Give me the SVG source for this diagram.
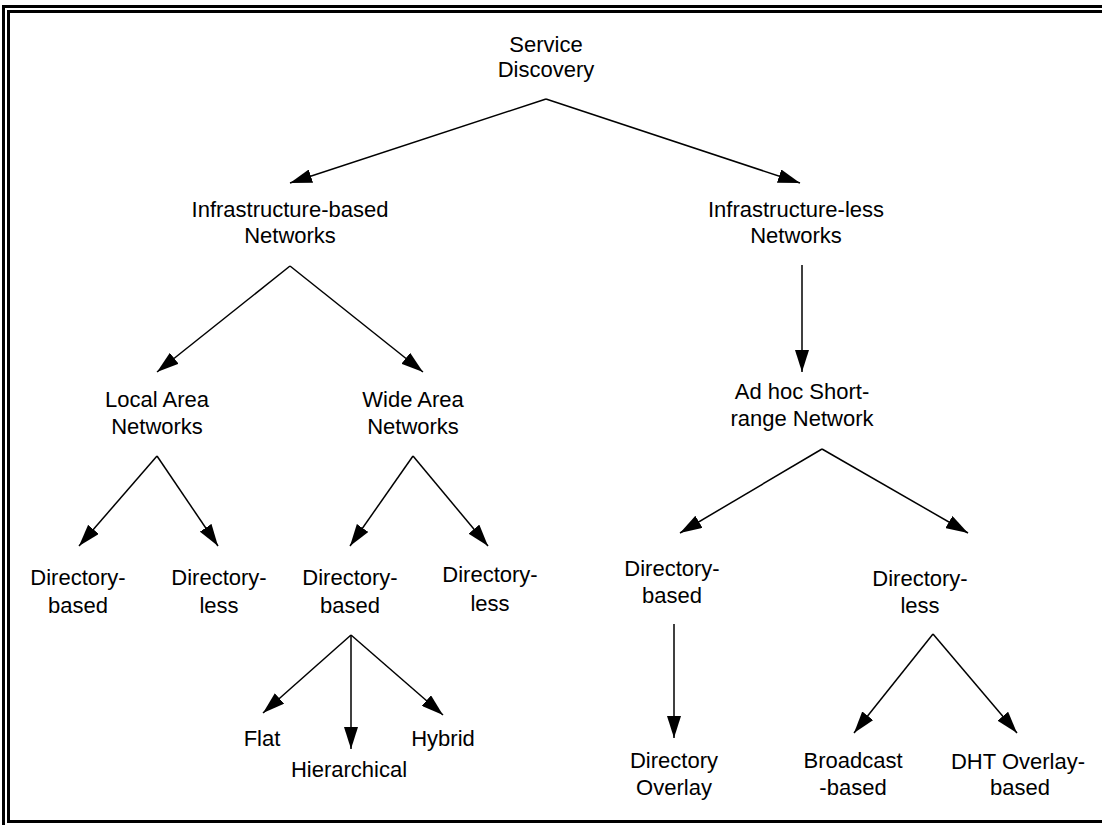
<svg xmlns="http://www.w3.org/2000/svg" width="1102" height="825" viewBox="0 0 1102 825">
<style>
text{font-family:"Liberation Sans",Arial,Helvetica,sans-serif;font-size:22px;fill:#000;text-anchor:middle}
.c line{stroke:#000;stroke-width:1.5;fill:none}
.frame{fill:none;stroke:#000;stroke-width:3}
</style>
<defs>
<marker id="ah" markerUnits="userSpaceOnUse" markerWidth="22" markerHeight="14" refX="22" refY="7" orient="auto" viewBox="0 0 22 14">
<path d="M0,0 L22,7 L0,14 z" fill="#000"/>
</marker>
</defs>
<rect width="1102" height="825" fill="#fff"/>
<rect class="frame" x="3.5" y="6.5" width="1110" height="830"/>
<rect class="frame" x="8.5" y="11.5" width="1110" height="810"/>
<g class="c" id="connectors">
<line x1="546" y1="99" x2="290" y2="183" marker-end="url(#ah)"/>
<line x1="546" y1="99" x2="800" y2="183" marker-end="url(#ah)"/>
<line x1="290" y1="266" x2="157" y2="372" marker-end="url(#ah)"/>
<line x1="290" y1="266" x2="423" y2="372" marker-end="url(#ah)"/>
<line x1="802" y1="265" x2="802" y2="372" marker-end="url(#ah)"/>
<line x1="822" y1="449" x2="680" y2="533" marker-end="url(#ah)"/>
<line x1="822" y1="449" x2="968" y2="533" marker-end="url(#ah)"/>
<line x1="157" y1="456" x2="79" y2="546" marker-end="url(#ah)"/>
<line x1="157" y1="456" x2="218" y2="546" marker-end="url(#ah)"/>
<line x1="413" y1="456" x2="350" y2="546" marker-end="url(#ah)"/>
<line x1="413" y1="456" x2="488" y2="546" marker-end="url(#ah)"/>
<line x1="351" y1="635" x2="263" y2="713" marker-end="url(#ah)"/>
<line x1="351" y1="635" x2="351" y2="749" marker-end="url(#ah)"/>
<line x1="351" y1="635" x2="443" y2="715" marker-end="url(#ah)"/>
<line x1="674" y1="624" x2="674" y2="738" marker-end="url(#ah)"/>
<line x1="933" y1="634" x2="854" y2="733" marker-end="url(#ah)"/>
<line x1="933" y1="634" x2="1017" y2="733" marker-end="url(#ah)"/>
</g>
<g id="service-discovery"><text x="546" y="52">Service</text><text x="546" y="77">Discovery</text></g>
<g id="infra-based"><text x="290" y="217">Infrastructure-based</text><text x="290" y="243">Networks</text></g>
<g id="infra-less"><text x="796" y="217">Infrastructure-less</text><text x="796" y="243">Networks</text></g>
<g id="lan"><text x="157" y="407">Local Area</text><text x="157" y="434">Networks</text></g>
<g id="wan"><text x="413" y="407">Wide Area</text><text x="413" y="434">Networks</text></g>
<g id="adhoc"><text x="802" y="399">Ad hoc Short-</text><text x="802" y="426">range Network</text></g>
<g id="lan-dir-based"><text x="78" y="585">Directory-</text><text x="78" y="613">based</text></g>
<g id="lan-dir-less"><text x="219" y="585">Directory-</text><text x="219" y="613">less</text></g>
<g id="wan-dir-based"><text x="350" y="585">Directory-</text><text x="350" y="613">based</text></g>
<g id="wan-dir-less"><text x="490" y="582">Directory-</text><text x="490" y="611">less</text></g>
<g id="adhoc-dir-based"><text x="672" y="576">Directory-</text><text x="672" y="603">based</text></g>
<g id="adhoc-dir-less"><text x="920" y="586">Directory-</text><text x="920" y="613">less</text></g>
<g id="flat"><text x="262" y="746">Flat</text></g>
<g id="hierarchical"><text x="349" y="777">Hierarchical</text></g>
<g id="hybrid"><text x="443" y="746">Hybrid</text></g>
<g id="dir-overlay"><text x="674" y="768">Directory</text><text x="674" y="795">Overlay</text></g>
<g id="broadcast"><text x="853" y="768">Broadcast</text><text x="853" y="795">-based</text></g>
<g id="dht"><text x="1018" y="769">DHT Overlay-</text><text x="1020" y="795">based</text></g>
</svg>
